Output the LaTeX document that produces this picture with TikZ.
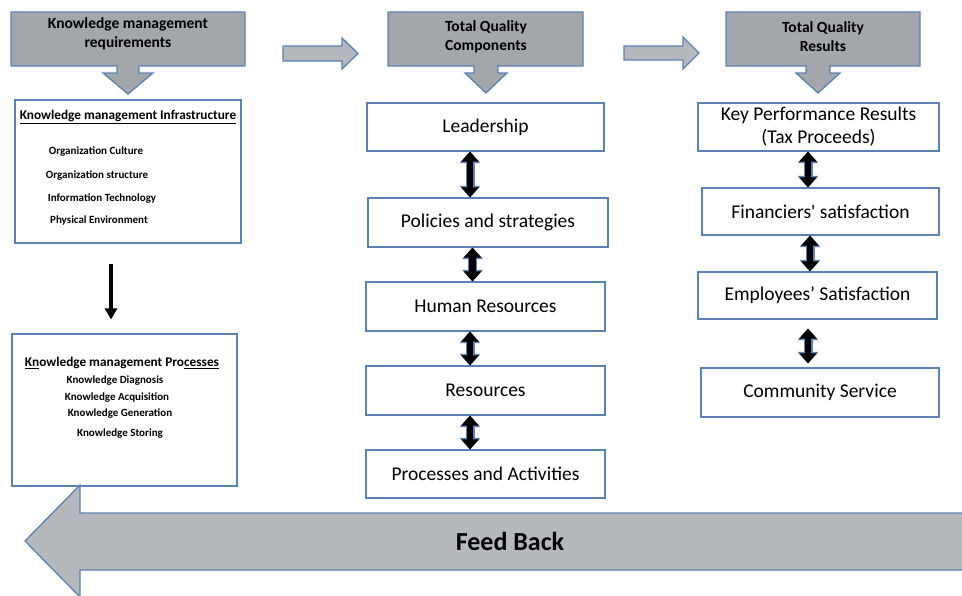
\documentclass[tikz,border=0pt]{standalone}
\usepackage{fontspec}
\setmainfont{Carlito}
\usetikzlibrary{arrows.meta,calc}
\definecolor{edge}{HTML}{5A82B4}
\definecolor{hdrfill}{HTML}{A3A6AA}
\definecolor{arrfill}{HTML}{B5B8BC}
\begin{document}
\begin{tikzpicture}[x=1pt,y=-1pt,
  blockshape/.style={draw=edge,line width=1.3pt,line join=miter},
  hdrtext/.style={font=\bfseries\fontsize{15.5}{19}\selectfont,align=center},
  item/.style={draw=edge,line width=1.1pt,fill=white,font=\fontsize{19.5}{22}\selectfont,align=center},
  listbox/.style={draw=edge,line width=1.1pt,fill=white},
  small/.style={font=\bfseries\fontsize{11}{12}\selectfont,inner sep=0pt},
  ltitle/.style={font=\bfseries\fontsize{13.3}{15}\selectfont,inner sep=0pt},
  dbl/.style={line width=6.5pt,black,
    {Triangle[length=10pt,width=17pt]}-{Triangle[length=10pt,width=17pt]},
    preaction={draw=edge,line width=9pt,
      {Triangle[length=11.5pt,width=20pt]}-{Triangle[length=11.5pt,width=20pt]}}},
  down/.style={line width=3.5pt,black,-{Triangle[length=11pt,width=12pt]}}]
\useasboundingbox (0,0) rectangle (962,595);

% header callouts (box with a down-pointing arrow)
\filldraw[blockshape,fill=hdrfill] (11,12) -- (245,12) -- (245,66) -- (139,66) -- (139,73)
  -- (153,73) -- (128,94) -- (103,73) -- (117,73) -- (117,66) -- (11,66) -- cycle;
\node[hdrtext] (kmreq) at (128,34) {Knowledge management\\requirements};

\filldraw[blockshape,fill=hdrfill] (388,12) -- (583,12) -- (583,66) -- (498,66) -- (498,73)
  -- (507,73) -- (486,93) -- (465,73) -- (474,73) -- (474,66) -- (388,66) -- cycle;
\node[hdrtext] (tqc) at (486,37) {Total Quality\\Components};

\filldraw[blockshape,fill=hdrfill] (726,12) -- (920,12) -- (920,66) -- (830,66) -- (830,73)
  -- (840,73) -- (818,93) -- (796,73) -- (806,73) -- (806,66) -- (726,66) -- cycle;
\node[hdrtext] (tqr) at (823,37) {Total Quality\\Results};

% block arrows between the headers
\filldraw[blockshape,fill=arrfill] (283,46) -- (342,46) -- (342,38) -- (358,53.5)
  -- (342,69) -- (342,61) -- (283,61) -- cycle;
\filldraw[blockshape,fill=arrfill] (624,46) -- (683,46) -- (683,37) -- (699,53)
  -- (683,69) -- (683,60) -- (624,60) -- cycle;

% knowledge management infrastructure
\node[listbox,minimum width=226pt,minimum height=143pt] (infra) at (128,171.5) {};
\node[ltitle] (infT) at (128,117) {\underline{Knowledge management Infrastructure}};
\node[small] (inf1) at (96,152) {Organization Culture};
\node[small] (inf2) at (97,176) {Organization structure};
\node[small] (inf3) at (102,199) {Information Technology};
\node[small] (inf4) at (99,221) {Physical Environment};

% knowledge management processes
\node[listbox,minimum width=225pt,minimum height=152pt] (proc) at (124.5,410) {};
\node[ltitle] (prT) at (122,363) {\underline{Kn}owledge management Pro\underline{cesses}};
\node[small] (pr1) at (115,381) {Knowledge Diagnosis};
\node[small] (pr2) at (117,398) {Knowledge Acquisition};
\node[small] (pr3) at (120,414) {Knowledge Generation};
\node[small] (pr4) at (120,434) {Knowledge Storing};

\draw[down,shorten <=20pt,shorten >=14pt] ([xshift=-17pt]infra.south)
  -- ([xshift=-17pt]infra.south |- proc.north);

% total quality components
\node[item,minimum width=237pt,minimum height=48pt] (lead) at (485.5,127) {Leadership};
\node[item,minimum width=240pt,minimum height=49pt] (pol) at (488,222.5) {Policies and strategies};
\node[item,minimum width=239pt,minimum height=49pt] (hr) at (485.5,306.5) {Human Resources};
\node[item,minimum width=239pt,minimum height=49pt] (res) at (485.5,390.5) {Resources};
\node[item,minimum width=239pt,minimum height=48pt] (pa) at (485.5,474) {Processes and Activities};

\foreach \a/\b in {lead/pol,pol/hr,hr/res,res/pa}
  \draw[dbl] ([xshift=-15.5pt]\a.south) -- ([xshift=-15.5pt]\a.south |- \b.north);

% total quality results
\node[item,minimum width=241pt,minimum height=48pt,inner sep=1pt,font=\fontsize{19.5}{23}\selectfont] (kpr) at (818.5,127)
  {Key Performance Results\\(Tax Proceeds)};
\node[item,minimum width=237pt,minimum height=47pt] (fin) at (820.5,211.5) {Financiers\textquotesingle{} satisfaction};
\node[item,minimum width=239pt,minimum height=47pt] (emp) at (817.5,295.5) {Employees’ Satisfaction};
\node[item,minimum width=238pt,minimum height=49pt] (com) at (820,392.5) {Community Service};

\draw[dbl] ([xshift=-10.5pt]kpr.south) -- ([xshift=-10.5pt]kpr.south |- fin.north);
\draw[dbl] ([xshift=-10.5pt]fin.south) -- ([xshift=-10.5pt]fin.south |- emp.north);
\draw[dbl,shorten <=9pt,shorten >=4pt] ([xshift=-9.5pt]emp.south) -- ([xshift=-9.5pt]emp.south |- com.north);

% feedback arrow along the bottom
\filldraw[blockshape,fill=arrfill] (975,513) -- (80,513) -- (80,485) -- (25,541)
  -- (80,597) -- (80,570) -- (975,570) -- cycle;
\node[font=\bfseries\fontsize{26}{28}\selectfont] (fb) at (510,541) {Feed Back};
\end{tikzpicture}
\end{document}
